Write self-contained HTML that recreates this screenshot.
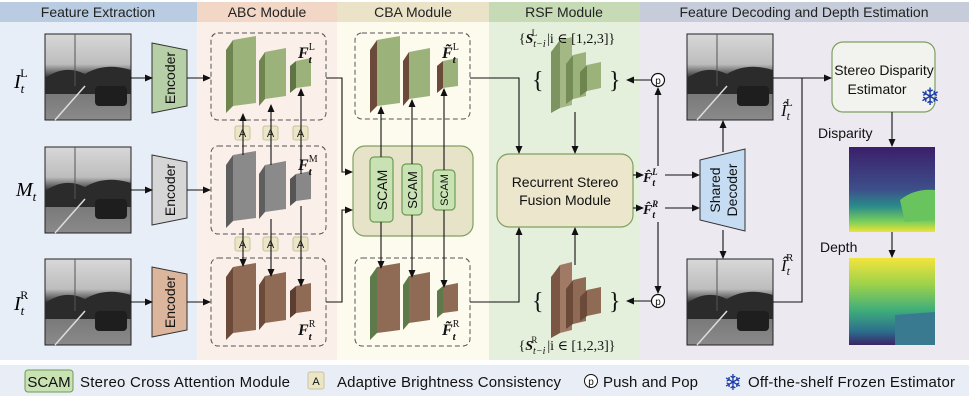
<!DOCTYPE html>
<html><head><meta charset="utf-8"><style>
body{margin:0;background:#fff}
svg{display:block;font-family:"Liberation Sans",sans-serif}
.s{font-family:"Liberation Serif","DejaVu Serif",serif;font-style:italic}
</style></head><body>
<svg width="969" height="400" viewBox="0 0 969 400" xmlns="http://www.w3.org/2000/svg">
<defs>
<marker id="a" markerWidth="8" markerHeight="8" refX="7" refY="4" orient="auto" markerUnits="userSpaceOnUse"><path d="M0,0.5 L8,4 L0,7.5z" fill="#111"/></marker>
<linearGradient id="img" x1="0" y1="0" x2="0" y2="1"><stop offset="0" stop-color="#d8d8d8"/><stop offset="0.35" stop-color="#bdbdbd"/><stop offset="0.5" stop-color="#3a3a3a"/><stop offset="0.65" stop-color="#777"/><stop offset="1" stop-color="#8a8a8a"/></linearGradient>
<linearGradient id="disp" x1="0" y1="0" x2="0" y2="1"><stop offset="0" stop-color="#3b1f6b"/><stop offset="0.5" stop-color="#3d4f8a"/><stop offset="0.7" stop-color="#2a8c8a"/><stop offset="0.88" stop-color="#7ccf5a"/><stop offset="1" stop-color="#f0e238"/></linearGradient>
<linearGradient id="dep" x1="0" y1="0" x2="0" y2="1"><stop offset="0" stop-color="#f3e43c"/><stop offset="0.3" stop-color="#9ed24a"/><stop offset="0.6" stop-color="#3fae7a"/><stop offset="0.85" stop-color="#2c6c8c"/><stop offset="1" stop-color="#3b2466"/></linearGradient>
<g id="pic"><rect width="86" height="86" fill="url(#img)" stroke="#222" stroke-width="1"/><path d="M0,44 Q20,30 40,40 Q60,28 86,36 L86,60 L0,60z" fill="#2b2b2b"/><rect x="50" y="52" width="32" height="20" rx="4" fill="#1e1e1e"/><path d="M10,86 L40,52" stroke="#ddd" stroke-width="1.5"/><line x1="30" y1="0" x2="30" y2="52" stroke="#555"/></g>
</defs>
<rect x="0" y="22" width="197" height="338" fill="#e8eef7"/>
<rect x="197" y="22" width="140" height="338" fill="#fbefe9"/>
<rect x="337" y="22" width="152" height="338" fill="#fdfaee"/>
<rect x="489" y="22" width="151" height="338" fill="#e4efdc"/>
<rect x="640" y="22" width="329" height="338" fill="#ece9f1"/>
<rect x="0" y="2" width="197" height="20" fill="#b9cce2"/>
<rect x="197" y="2" width="140" height="20" fill="#f2d6c6"/>
<rect x="337" y="2" width="152" height="20" fill="#ebe3c7"/>
<rect x="489" y="2" width="151" height="20" fill="#c6dab6"/>
<rect x="640" y="2" width="329" height="20" fill="#c7ccdb"/>
<g font-size="14" fill="#222" text-anchor="middle">
<text x="98" y="17">Feature Extraction</text><text x="267" y="17">ABC Module</text><text x="413" y="17">CBA Module</text><text x="564" y="17">RSF Module</text><text x="804" y="17">Feature Decoding and Depth Estimation</text></g>

<use href="#pic" x="45" y="34"/><use href="#pic" x="45" y="147"/><use href="#pic" x="45" y="259"/>
<text class="s" x="14" y="88" font-size="20">I<tspan font-size="13" dy="5">t</tspan><tspan font-size="12" font-style="normal" dx="-4" dy="-16">L</tspan></text>
<text class="s" x="16" y="196" font-size="20">M<tspan font-size="13" dy="5">t</tspan></text>
<text class="s" x="14" y="310" font-size="20">I<tspan font-size="13" dy="5">t</tspan><tspan font-size="12" font-style="normal" dx="-4" dy="-16">R</tspan></text>

<g stroke="#333" stroke-width="1">
<path d="M152,43 L187,50 L187,106 L152,113z" fill="#b6cfa6"/>
<path d="M152,155 L187,162 L187,218 L152,225z" fill="#d6d6d6"/>
<path d="M152,267 L187,274 L187,330 L152,337z" fill="#dbb69d"/></g>
<g font-size="14" fill="#111" text-anchor="middle">
<text transform="translate(175,78) rotate(-90)">Encoder</text>
<text transform="translate(175,190) rotate(-90)">Encoder</text>
<text transform="translate(175,302) rotate(-90)">Encoder</text></g>

<g fill="none" stroke="#555" stroke-dasharray="5,3" stroke-width="1">
<rect x="211" y="33" width="115" height="87" rx="7"/><rect x="211" y="146" width="115" height="88" rx="7"/><rect x="211" y="258" width="115" height="88" rx="7"/>
<rect x="355" y="33" width="115" height="86" rx="7"/><rect x="355" y="258" width="115" height="88" rx="7"/></g>

<g>
<polygon points="226,50 233,40 233,106 226,113" fill="#6f8550"/><polygon points="233,40 256,36 256,103 233,106" fill="#9bb27a"/>
<polygon points="259,61 265,52 265,99 259,106" fill="#6f8550"/><polygon points="265,52 286,48 286,96 265,99" fill="#9bb27a"/>
<polygon points="290,66 296,61 296,88 290,93" fill="#5f7446"/><polygon points="296,61 311,58 311,86 296,88" fill="#9bb27a"/>
<polygon points="226,165 233,155 233,221 226,228" fill="#5e5e5e"/><polygon points="233,155 256,151 256,218 233,221" fill="#8a8a8a"/>
<polygon points="259,174 265,165 265,212 259,219" fill="#5e5e5e"/><polygon points="265,165 286,161 286,209 265,212" fill="#8a8a8a"/>
<polygon points="290,179 296,174 296,201 290,206" fill="#555"/><polygon points="296,174 311,171 311,199 296,201" fill="#888"/>
<polygon points="226,277 233,267 233,333 226,340" fill="#6b4a3a"/><polygon points="233,267 256,263 256,330 233,333" fill="#8f6a55"/>
<polygon points="259,285 265,276 265,323 259,330" fill="#6b4a3a"/><polygon points="265,276 286,272 286,320 265,323" fill="#8f6a55"/>
<polygon points="290,291 296,286 296,313 290,318" fill="#5c3e30"/><polygon points="296,286 311,283 311,311 296,313" fill="#8f6a55"/>
</g>
<g>
<polygon points="370,50 377,40 377,106 370,113" fill="#6b4a3a"/><polygon points="377,40 400,36 400,103 377,106" fill="#9bb27a"/>
<polygon points="403,61 409,52 409,99 403,106" fill="#6b4a3a"/><polygon points="409,52 430,48 430,96 409,99" fill="#9bb27a"/>
<polygon points="437,66 443,61 443,88 437,93" fill="#6b4a3a"/><polygon points="443,61 458,58 458,86 443,88" fill="#9bb27a"/>
<polygon points="370,277 377,267 377,333 370,340" fill="#5f7a4a"/><polygon points="377,267 400,263 400,330 377,333" fill="#8f6a55"/>
<polygon points="403,285 409,276 409,323 403,330" fill="#5f7a4a"/><polygon points="409,276 430,272 430,320 409,323" fill="#8f6a55"/>
<polygon points="437,291 443,286 443,313 437,318" fill="#5f7a4a"/><polygon points="443,286 458,283 458,311 443,313" fill="#8f6a55"/>
</g>
<g class="s" font-weight="bold" font-size="16" fill="#111">
<text x="298" y="58">F<tspan font-size="11" dy="5">t</tspan><tspan font-size="10" font-weight="normal" font-style="normal" dx="-3" dy="-13">L</tspan></text>
<text x="298" y="170">F<tspan font-size="11" dy="5">t</tspan><tspan font-size="10" font-weight="normal" font-style="normal" dx="-3" dy="-13">M</tspan></text>
<text x="298" y="335">F<tspan font-size="11" dy="5">t</tspan><tspan font-size="10" font-weight="normal" font-style="normal" dx="-3" dy="-13">R</tspan></text>
<text x="442" y="58">F̃<tspan font-size="11" dy="5">t</tspan><tspan font-size="10" font-weight="normal" font-style="normal" dx="-3" dy="-13">L</tspan></text>
<text x="442" y="335">F̃<tspan font-size="11" dy="5">t</tspan><tspan font-size="10" font-weight="normal" font-style="normal" dx="-3" dy="-13">R</tspan></text>
</g>

<g font-size="11" text-anchor="middle" fill="#222">
<g fill="#ebe6c6" stroke="#c9c3a0"><rect x="235" y="126" width="15" height="14" rx="2"/><rect x="263" y="126" width="15" height="14" rx="2"/><rect x="293" y="126" width="15" height="14" rx="2"/>
<rect x="235" y="237" width="15" height="14" rx="2"/><rect x="263" y="237" width="15" height="14" rx="2"/><rect x="293" y="237" width="15" height="14" rx="2"/></g>
<text x="242.5" y="137">A</text><text x="270.5" y="137">A</text><text x="300.5" y="137">A</text>
<text x="242.5" y="248">A</text><text x="270.5" y="248">A</text><text x="300.5" y="248">A</text></g>

<rect x="353" y="146" width="120" height="90" rx="12" fill="#e6e3c8" stroke="#7fa060" stroke-width="1.2"/>
<g fill="#c9e2b4" stroke="#6e9b55" stroke-width="1.2"><rect x="370" y="157" width="23" height="65" rx="4"/><rect x="402" y="164" width="20" height="51" rx="4"/><rect x="433" y="170" width="22" height="40" rx="4"/></g>
<g fill="#111" text-anchor="middle"><text font-size="14" transform="translate(387,190) rotate(-90)">SCAM</text><text font-size="13" transform="translate(417,190) rotate(-90)">SCAM</text><text font-size="11" transform="translate(448,190) rotate(-90)">SCAM</text></g>

<rect x="497" y="154" width="136" height="73" rx="12" fill="#ece6cc" stroke="#7fa060" stroke-width="1.2"/>
<text x="565" y="187" font-size="14" text-anchor="middle" fill="#111">Recurrent Stereo</text>
<text x="565" y="205" font-size="14" text-anchor="middle" fill="#111">Fusion Module</text>
<g>
<polygon points="551,52 560,40 560,108 551,113" fill="#7d9460"/><polygon points="560,40 572,37 572,105 560,108" fill="#a3b885"/>
<polygon points="566,64 573,55 573,99 566,104" fill="#758b58"/><polygon points="573,55 586,52 586,96 573,99" fill="#9bb27a"/>
<polygon points="580,72 587,65 587,91 580,96" fill="#6f8550"/><polygon points="587,65 601,62 601,88 587,91" fill="#9bb27a"/>
<polygon points="551,277 560,265 560,333 551,338" fill="#7b5644"/><polygon points="560,265 572,262 572,330 560,333" fill="#a07a64"/>
<polygon points="566,289 573,280 573,324 566,329" fill="#6b4a3a"/><polygon points="573,280 586,277 586,321 573,324" fill="#8f6a55"/>
<polygon points="580,297 587,290 587,316 580,321" fill="#6b4a3a"/><polygon points="587,290 601,287 601,313 587,316" fill="#8f6a55"/>
</g>
<g font-family="Liberation Serif,serif" font-size="24" fill="#111"><text x="532" y="88">{</text><text x="609" y="88">}</text><text x="532" y="309">{</text><text x="609" y="309">}</text></g>
<g class="s" font-size="14" fill="#111" text-anchor="middle">
<text x="567" y="43"><tspan font-style="normal">{</tspan><tspan font-weight="bold">S</tspan><tspan font-size="10" dy="4">t−i</tspan><tspan font-size="9" font-style="normal" dx="-14" dy="-11">L</tspan><tspan font-style="normal" dx="10" dy="7">|i ∈ [1,2,3]}</tspan></text>
<text x="567" y="350"><tspan font-style="normal">{</tspan><tspan font-weight="bold">S</tspan><tspan font-size="10" dy="4">t−i</tspan><tspan font-size="9" font-style="normal" dx="-14" dy="-11">R</tspan><tspan font-style="normal" dx="10" dy="7">|i ∈ [1,2,3]}</tspan></text></g>

<use href="#pic" x="687" y="34"/><use href="#pic" x="687" y="259"/>
<path d="M700,160 L745,149 L745,231 L700,220z" fill="#c6dcf2" stroke="#333"/>
<g font-size="14" fill="#111" text-anchor="middle"><text transform="translate(720,190) rotate(-90)">Shared</text><text transform="translate(737,190) rotate(-90)">Decoder</text></g>
<g class="s" font-weight="bold" font-size="14" fill="#111">
<text x="643" y="182">F̂<tspan font-size="10" dy="4">t</tspan><tspan font-size="9" dx="-3" dy="-11">L</tspan></text>
<text x="643" y="214">F̂<tspan font-size="10" dy="4">t</tspan><tspan font-size="9" dx="-3" dy="-11">R</tspan></text></g>
<g class="s" font-size="17" fill="#111">
<text x="781" y="116">Î<tspan font-size="12" dy="4">t</tspan><tspan font-size="11" font-style="normal" dx="-4" dy="-14">L</tspan></text>
<text x="781" y="271">Î<tspan font-size="12" dy="4">t</tspan><tspan font-size="11" font-style="normal" dx="-4" dy="-14">R</tspan></text></g>
<g fill="#fff" stroke="#111" stroke-width="1.2"><circle cx="658" cy="80" r="6.5"/><circle cx="658" cy="301" r="6.5"/></g>
<g font-size="10" text-anchor="middle" fill="#111"><text x="658" y="84">p</text><text x="658" y="305">p</text></g>

<rect x="832" y="42" width="103" height="70" rx="11" fill="#f2f2ee" stroke="#7fa060" stroke-width="1.2"/>
<text x="884" y="75" font-size="14" text-anchor="middle" fill="#111">Stereo Disparity</text>
<text x="877" y="94" font-size="14" text-anchor="middle" fill="#111">Estimator</text>
<text x="930" y="105" font-size="24" fill="#1a3aa8" text-anchor="middle">❄</text>
<text x="818" y="138" font-size="14" fill="#111">Disparity</text>
<text x="820" y="252" font-size="14" fill="#111">Depth</text>
<rect x="849" y="147" width="86" height="85" fill="url(#disp)"/>
<path d="M900,200 Q915,188 935,190 L935,220 L905,222z" fill="#6ac45e"/>
<rect x="849" y="258" width="86" height="87" fill="url(#dep)"/>
<path d="M895,315 L935,312 L935,345 L895,345z" fill="#3a7a90"/>

<g stroke="#111" stroke-width="1.1" fill="none" marker-end="url(#a)">
<path d="M130,78H152"/><path d="M187,78H210"/><path d="M130,190H152"/><path d="M187,190H210"/><path d="M130,302H152"/><path d="M187,302H210"/>
<path d="M243,155V114"/><path d="M271,165V105"/><path d="M301,174V89"/>
<path d="M243,228V266"/><path d="M271,219V276"/><path d="M301,206V286"/>
<path d="M326,78H342V172H352"/><path d="M326,302H342V210H352"/>
<path d="M381,157V107"/><path d="M412,164V100"/><path d="M444,170V89"/>
<path d="M381,222V268"/><path d="M412,215V277"/><path d="M444,210V287"/>
<path d="M470,78H519V153"/><path d="M575,112V153"/><path d="M470,302H519V228"/><path d="M575,265V228"/>
<path d="M633,175H643"/><path d="M633,208H643"/><path d="M665,175H699"/><path d="M665,208H699"/>
<path d="M658,166V88"/><path d="M651,80H627"/><path d="M658,222V293"/><path d="M651,301H627"/>
<path d="M723,152V121"/><path d="M723,230V258"/>
<path d="M773,78H831"/><path d="M892,112V146"/><path d="M892,232V257"/></g>
<path d="M802,78V302H773" stroke="#111" stroke-width="1.1" fill="none"/>

<rect x="0" y="365" width="969" height="31" fill="#e9edf5"/>
<rect x="25" y="370" width="48" height="22" rx="3" fill="#c9e2b4" stroke="#6e9b55"/>
<text x="49" y="387" font-size="15" text-anchor="middle" fill="#111">SCAM</text>
<text x="80" y="387" font-size="15" fill="#111" textLength="210">Stereo Cross Attention Module</text>
<rect x="308" y="372" width="16" height="17" rx="2" fill="#ebe6c6" stroke="#c9c3a0"/>
<text x="316" y="385" font-size="11" text-anchor="middle" fill="#111">A</text>
<text x="337" y="387" font-size="15" fill="#111" textLength="224">Adaptive Brightness Consistency</text>
<circle cx="591" cy="381" r="6.5" fill="#fff" stroke="#111"/>
<text x="591" y="385" font-size="10" text-anchor="middle" fill="#111">p</text>
<text x="603" y="387" font-size="15" fill="#111" textLength="95">Push and Pop</text>
<text x="733" y="390" font-size="22" fill="#1a3aa8" text-anchor="middle">❄</text>
<text x="748" y="387" font-size="15" fill="#111" textLength="207">Off-the-shelf Frozen Estimator</text>
</svg>
</body></html>
